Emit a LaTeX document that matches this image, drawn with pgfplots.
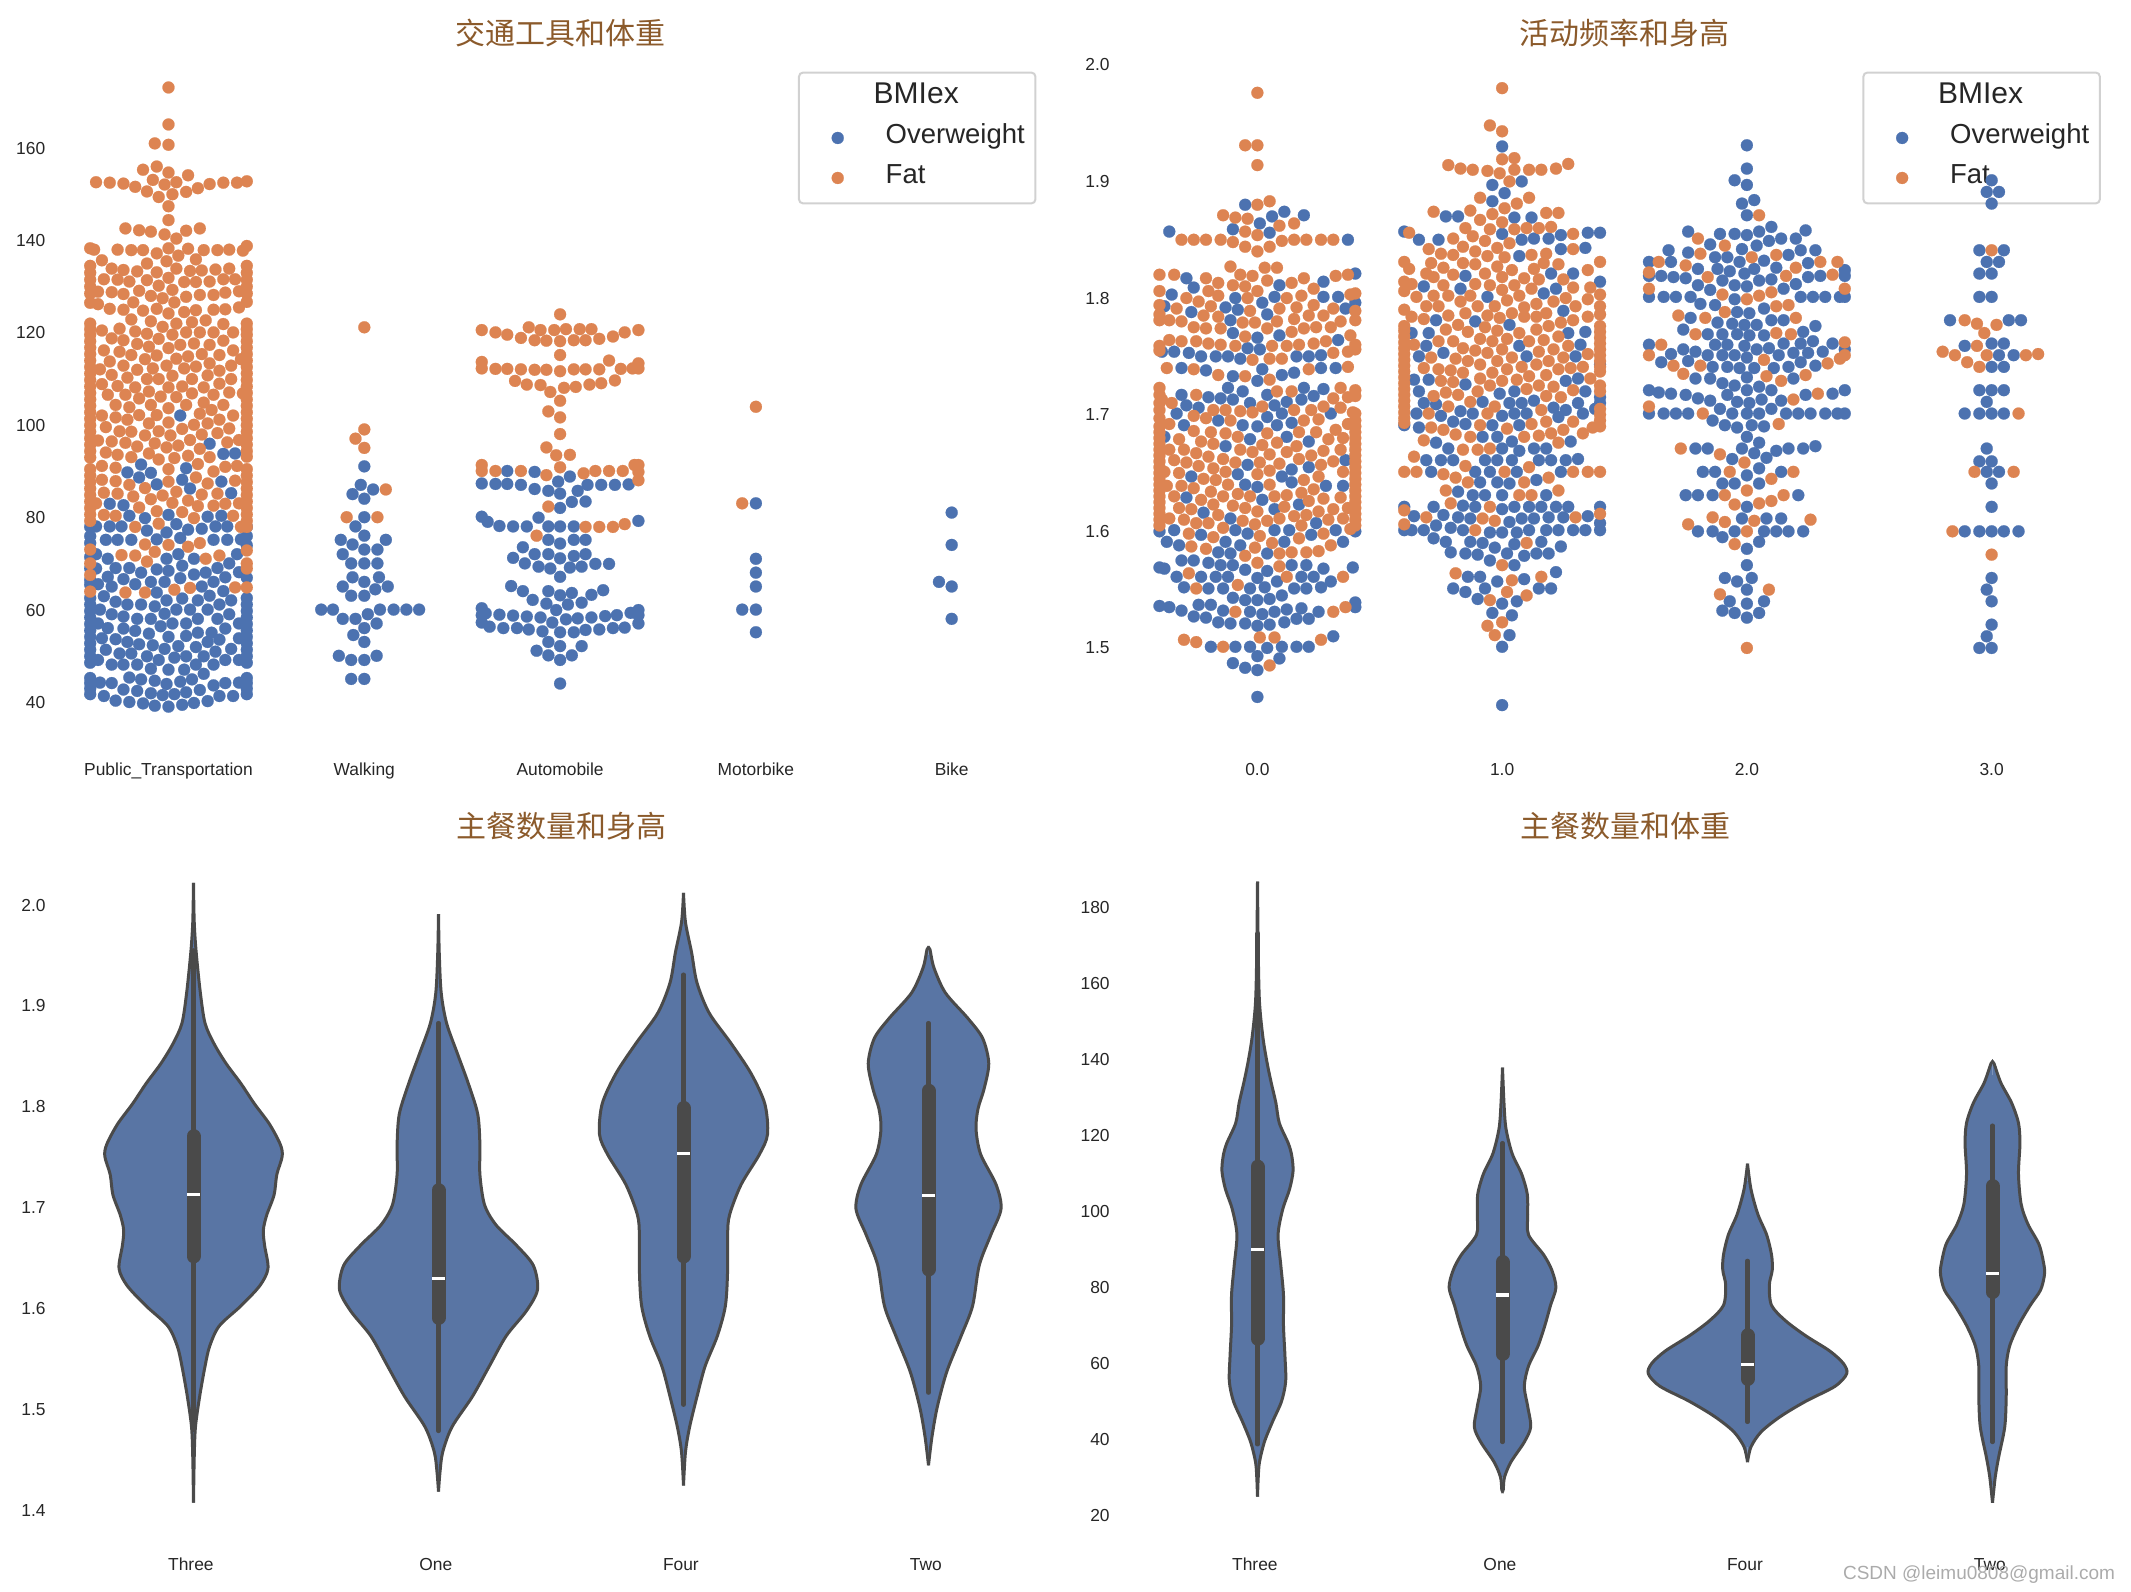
\documentclass[border=0pt]{standalone}
\usepackage{fontspec}
\setmainfont{Liberation Sans}
\newfontfamily\cjk{Noto Sans CJK SC}
\usepackage{pgfplots}
\usepackage{pgfplotstable}
\pgfplotsset{compat=1.18}
\definecolor{cB}{HTML}{4C72B0}
\definecolor{cO}{HTML}{DD8452}
\definecolor{cV}{HTML}{5975A4}
\definecolor{cL}{HTML}{4A4A4A}
\definecolor{cT}{HTML}{8B5A2B}
\definecolor{cK}{HTML}{262626}
\pgfplotsset{
 base/.style={scale only axis,axis line style={draw=none},major tick length=0pt,tick style={draw=none},
  clip=false,/pgf/number format/assume math mode=true,
  tick label style={font=\fontsize{8.7}{10}\selectfont,text=cK},
  xticklabel style={anchor=base,inner sep=0pt,yshift=-15.5pt},
  yticklabel style={anchor=east,inner sep=0pt,xshift=-12.5pt},
  title style={font=\cjk\fontsize{15}{15}\selectfont,text=cT,anchor=center,at={(0.5,1)}},
  legend cell align=left,
  legend image code/.code={\draw[mark repeat=2,mark phase=2,##1] plot coordinates {(0.17cm,0cm)(0.47cm,0cm)(0.77cm,0cm)};},
  legend style={at={(0.743,0.962)},anchor=north west,draw=black!18,line width=1pt,rounded corners=2pt,fill=white,
   font=\fontsize{13.75}{14}\selectfont,text=cK,inner xsep=6pt,inner ysep=2.7pt,row sep=0pt,
   nodes={text height=13pt,text depth=7pt,inner ysep=0pt}},
 },
 top/.style={base,width=489.5pt,height=350pt},
 bot/.style={base,width=490pt,height=344.5pt},
 sb/.style={only marks,mark=*,mark size=3pt,color=cB,mark options={draw=cB,fill=cB,line width=0.1pt},forget plot},
 so/.style={only marks,mark=*,mark size=3pt,color=cO,mark options={draw=cO,fill=cO,line width=0.1pt},forget plot},
 lb/.style={only marks,mark=*,mark size=3pt,color=cB,mark options={draw=cB,fill=cB,line width=0.1pt}},
 lo/.style={only marks,mark=*,mark size=3pt,color=cO,mark options={draw=cO,fill=cO,line width=0.1pt}},
 vio/.style={fill=cV,draw=cL,line width=1.5pt,smooth,tension=0.5,forget plot},
 sm/.style={draw=cV,line width=0.6pt,forget plot},
 wh/.style={draw=cL,line width=2.2pt,line cap=round,forget plot},
 bx/.style={draw=cL,line width=7pt,line cap=round,forget plot},
 md/.style={draw=white,line width=1.6pt,forget plot},
}
\pgfplotstableread{
h w
2.022 0
1.983 .003
1.953 .011
1.913 .028
1.883 .047
1.863 .083
1.843 .133
1.823 .194
1.803 .249
1.783 .310
1.763 .354
1.751 .362
1.733 .340
1.713 .329
1.693 .299
1.678 .285
1.663 .290
1.640 .304
1.623 .271
1.603 .194
1.583 .105
1.563 .066
1.543 .047
1.513 .025
1.483 .008
1.453 .003
1.408 0
}\hThree
\pgfplotstableread{
h w
1.991 0
1.953 .003
1.913 .011
1.883 .033
1.853 .077
1.823 .122
1.793 .160
1.763 .169
1.733 .169
1.703 .188
1.683 .235
1.663 .318
1.643 .387
1.619 .404
1.598 .359
1.573 .276
1.543 .207
1.513 .138
1.483 .055
1.458 .017
1.438 .006
1.419 0
}\hOne
\pgfplotstableread{
h w
2.012 0
1.983 .008
1.953 .033
1.923 .055
1.893 .105
1.863 .194
1.833 .276
1.803 .332
1.773 .343
1.753 .310
1.723 .235
1.693 .188
1.673 .180
1.638 .180
1.603 .171
1.573 .138
1.543 .088
1.513 .055
1.483 .025
1.458 .008
1.425 0
}\hFour
\pgfplotstableread{
h w
1.957 0
1.956 .006
1.938 .022
1.913 .069
1.888 .160
1.868 .221
1.843 .246
1.818 .227
1.798 .202
1.778 .194
1.753 .213
1.723 .276
1.699 .296
1.673 .254
1.643 .207
1.603 .180
1.573 .133
1.538 .075
1.503 .036
1.473 .014
1.445 0
}\hTwo
\pgfplotstableread{
h w
186.9 0
168.5 .003
155.2 .008
145.9 .022
139.2 .039
133.9 .056
128.6 .075
123.3 .089
117.9 .126
114.6 .140
110.6 .145
105.9 .131
100.6 .103
93.9 .084
85.9 .095
78 .106
70 .106
62 .112
55.3 .115
50 .098
44.6 .061
39.3 .028
34 .008
30 .003
24.9 0
}\wThree
\pgfplotstableread{
h w
137.9 0
128.6 .006
121.9 .014
115.3 .039
109.9 .078
104.6 .101
99.3 .103
93.9 .106
88.6 .168
84.6 .201
80 .218
75.3 .196
70 .173
64.6 .145
59.3 .106
54 .089
48.6 .103
43.3 .115
39.3 .089
34 .034
30 .008
26.7 .003
26.5 0
}\wOne
\pgfplotstableread{
h w
112.6 0
105.9 .014
99.3 .042
93.9 .078
88.6 .098
84.6 .101
80.6 .089
75.3 .098
71.3 .154
67.3 .237
63.3 .335
60 .391
57.3 .405
54 .358
50 .237
46 .134
42 .056
38 .014
34 0
}\wFour
\pgfplotstableread{
h w
139.2 0
139 .006
133.9 .034
128.6 .078
123.3 .106
117.9 .112
109.9 .106
101.9 .117
96.6 .145
91.3 .19
85.9 .21
83.3 .212
79.3 .196
75.3 .154
70 .106
64.6 .07
59.3 .056
51.3 .056
43.3 .05
35.3 .025
30 .011
23.3 0
}\wTwo
\begin{document}
\begin{tikzpicture}
\useasboundingbox (0,0) rectangle (1065.5pt,795.5pt);
% panel 1
\begin{axis}[top,at={(35.3pt,423pt)},anchor=south west,title={交通工具和体重},title style={yshift=0pt},
 xmin=-0.5,xmax=4.5,ymin=30.8,ymax=182.3,ytick={40,60,80,100,120,140,160},
 xtick={0,1,2,3,4},xticklabels={Public\_Transportation,Walking,Automobile,Motorbike,Bike}]
\addlegendimage{empty legend}\addlegendentry{\hspace*{13pt}\fontsize{15}{15}\selectfont BMIex}
\addlegendimage{lb}\addlegendentry{\hspace*{19pt}Overweight\hspace*{-2.7pt}}
\addlegendimage{lo}\addlegendentry{\hspace*{19pt}Fat}
% column 0 blue
\addplot[sb] coordinates {(.06,102.1)(.21,96)(.28,93.8)(.34,93.9)(-.14,91.5)(.09,90.7)(-.21,89.8)(-.09,89.7)(-.15,88.7)(.07,88.2)(.27,87.8)(-.06,87.2)(.11,86.3)(.32,85.3)(-.3,83)(-.23,82.7)(-.2,80.4)(0,80.6)(-.12,79.9)(.2,80.2)(.27,80.4)(.04,78.6)(-.37,78.1)(-.3,78.1)(-.24,78.1)(.17,77.6)(.24,78.1)(.3,78.1)(-.11,77.2)(.1,77.4)(-.01,76.8)(.06,75.6)(-.32,75.2)(-.26,75.2)(-.19,75.2)(-.06,75.3)(.23,75.2)(.3,75.2)(.37,75.3)(-.37,72.1)(.05,72.1)(.35,72.1)(-.31,71.1)(-.01,71.1)(.13,71.1)(.31,70.1)(.07,69.6)(.25,69.1)(-.27,69.1)(-.2,69.1)(-.37,69)(-.06,68.8)(0,68.5)(-.14,68.1)(.19,68.1)(.36,68.2)(.13,67.7)(-.31,67.2)(.29,67.1)(.06,66.9)(-.23,66.7)(.23,66.1)(-.09,66.1)(-.02,66.1)(-.17,65.6)(-.36,65.6)(.17,65.1)(-.29,65.1)(.28,64.1)(-.06,63.8)(.21,63.1)(-.33,63)(.15,62.1)(.07,62.5)(-.01,62.1)(.32,62.1)(-.27,61.8)(-.21,61.2)(-.14,61.2)(-.07,60.8)(.26,61.2)(.2,60.1)(-.35,60.1)(.04,60.1)(.11,60.1)(-.29,59.1)(-.02,59.2)(.31,59.1)(-.23,58.6)(-.16,58.1)(-.09,58.1)(.15,58.1)(.25,58.1)(.02,57.1)(.09,57.1)(-.36,57.1)(.36,57.1)(-.04,56.5)(-.31,56.1)(-.23,56)(.29,56)(-.17,55.5)(.22,55.1)(.15,55.1)(-.1,54.9)(0,54.2)(.09,54.4)(-.34,53.9)(-.27,53.7)(.36,53.9)(.26,53.6)(-.21,53.1)(.2,53.1)(-.15,52.6)(-.08,52.4)(.05,52.2)(.14,52)(-.02,51.6)(.24,51)(-.32,51.4)(.32,51.6)(-.25,50.6)(-.19,50.6)(.18,50)(.09,50)(-.11,50)(.03,49.7)(-.05,49.2)(-.36,49.2)(.36,49.2)(.29,49.2)(-.29,48.2)(-.23,48.2)(-.16,48.2)(.14,48.2)(.23,48.2)(-.09,47.3)(0,47.1)(.08,47.1)(.18,46.2)(-.2,45.4)(-.14,45)(-.07,44.7)(.12,45)(.06,44.5)(-.35,44.3)(-.01,44)(-.29,44.2)(.36,44.3)(.29,44.2)(.23,43.7)(-.23,42.8)(-.16,42.5)(.16,42.7)(-.09,42)(.09,42.2)(-.03,41.6)(.03,41.8)(-.33,41.4)(.33,41.4)(.26,41.4)(-.27,40.4)(-.2,40.1)(-.13,39.8)(.13,39.9)(.2,40.3)(-.07,39.3)(.07,39.5)(0,39.1)
(-.4,41.8)(-.4,43)(-.4,44.2)(-.4,45.3)(.4,41.8)(.4,43)(.4,44.2)(.4,45.3)
(-.4,48.6)(-.4,50)(-.4,51.4)(-.4,52.8)(-.4,54.2)(-.4,55.6)(-.4,57)(-.4,58.4)(-.4,59.8)(-.4,61.2)(-.4,62.6)(-.4,65.5)(-.4,66.5)(-.4,69)(-.4,71.5)(-.4,74.5)(-.4,76)(-.4,78)
(.4,48.6)(.4,50)(.4,51.4)(.4,52.8)(.4,54.2)(.4,55.6)(.4,57)(.4,58.4)(.4,59.8)(.4,61.2)(.4,62.6)(.4,67)(.4,74)(.4,76)(.4,78)};
% column 0 orange
\addplot[so] coordinates {(0,173.1)(0,165.1)(-.07,161)(0,160.7)(-.06,156)(-.13,155.3)(0,154.7)(.1,154.1)(-.08,153.1)(-.37,152.6)(-.3,152.5)(-.23,152.3)(-.17,151.6)(-.02,152.1)(.04,152.6)(.15,151.3)(.21,152.2)(.28,152.5)(.35,152.5)(.4,152.8)(-.11,150.6)(-.05,149.4)(.02,150)(.09,150.5)(0,147.4)(0,144.4)(-.22,142.6)(-.15,142.2)(-.09,141.9)(-.02,141.3)(.04,140.4)(.09,142.1)(.16,142.6)(-.4,138.3)(-.38,138)(-.26,138)(-.19,137.9)(-.13,137.9)(-.06,137.2)(0,138.3)(.05,136.7)(.1,138.2)(.18,137.9)(.25,137.9)(.31,138)(.38,137.8)(.4,138.8)(-.34,135.7)(-.01,135.5)(.14,135.9)(-.11,135)(-.29,133.9)(-.23,133.6)(-.16,133.3)(-.06,133.1)(.04,133.9)(.11,133.4)(.17,133.5)(.24,133.7)(.31,133.9)(-.33,131.6)(-.26,131.5)(-.2,131.1)(-.11,131.4)(0,131.9)(.08,131)(.14,131)(.21,131.1)(.28,131.6)(.34,131.6)(-.05,130.2)(.02,129.3)(-.15,129.1)(-.29,128.8)(-.23,128.4)(-.36,128.9)(-.09,128)(.09,127.8)(.16,128.2)(.23,128.2)(.29,128.7)(.36,129)(-.03,127.5)(-.18,126.6)(.03,126.6)(-.36,126.2)(-.3,125.2)(-.23,125)(-.13,124.8)(-.06,125.2)(0,124.2)(.08,124.5)(.14,124.9)(.23,125)(.29,125.1)(.36,125.5)(.4,126.7)(-.19,122.9)(-.09,122.5)(.04,122)(.12,122.3)(.19,122.7)(.28,121.9)(-.03,121.3)(-.25,120.9)(-.34,120.5)(-.17,120.3)(-.11,119.8)(.09,120.1)(.16,120.1)(.23,120.1)(.33,120.1)(.02,119.6)(-.29,118.8)(-.05,118.7)(-.23,118.4)(.28,118.3)(-.16,117.6)(.06,117.4)(.13,117.7)(.21,117.4)(-.1,117)(0,116.7)(-.33,116.2)(-.25,115.9)(.33,116.2)(-.19,115.2)(-.06,115.1)(.17,115.4)(.26,115.2)(.1,114.9)(.04,114.4)(-.12,114.3)(-.3,113.8)(.37,114.3)(.21,113.4)(-.23,112.9)(-.01,112.9)(.14,112.7)(.32,112.9)(-.08,112.3)(.08,112.3)(-.35,112.1)(-.16,112)(.26,111.8)(-.29,110.9)(-.21,110.3)(.02,110.7)(.2,110.8)(-.11,110)(-.05,110)(.12,110)(.32,110)(-.34,108.9)(-.26,108.5)(.26,109)(-.17,108.2)(0,108.2)(.07,108.4)(.18,108.2)(-.1,107.3)(.31,107.1)(.12,106.9)(.23,106.6)(-.22,106.6)(-.31,106.6)(-.15,105.8)(-.04,106.2)(.04,106.1)(.38,106.9)
(-.27,104.4)(-.2,103.9)(-.09,104.4)(0,103.7)(.09,104.4)(.18,104.9)(.22,103.3)(.28,104.4)(-.34,102.1)(-.27,101.7)(-.21,101.2)(-.15,102.2)(-.06,102.2)(.16,102.5)(.33,102.1)(0,100.6)(-.1,100.4)(-.32,99.6)(.26,101.2)(.2,100.4)(.13,100.1)(.31,99.3)(-.25,98.7)(.07,99.2)(-.19,98.6)(-.05,98.7)(-.12,97.8)(.01,97.8)(.17,98)(.25,98.3)(.11,96.8)(-.36,96.7)(-.29,96.5)(-.22,96.2)(.3,96.3)(.36,96.8)(-.07,96.1)(-.16,95.4)(.05,95.6)(-.01,95.2)(.16,94.9)(-.32,94.1)(-.26,93.6)(-.1,93.9)(.1,93.4)(-.19,93.1)(.21,93.1)(.03,92.9)(-.05,92.6)(.15,91.6)(-.34,91.2)(-.27,90.8)(.29,91)(.35,91.2)(0,90.5)(.23,90)(.14,88.7)(-.34,88.2)(-.27,87.9)(0,87.8)(.34,88)(-.2,87.1)(.2,87.4)(-.12,86.4)(-.33,85.4)(-.26,85.2)(.04,85.6)(-.03,84.8)(.17,85)(.25,85.2)(-.18,84.6)(-.09,84)(.1,83.7)(-.37,83.1)(.02,83.2)(.29,83)(.15,82.5)(.36,83.1)(.23,82.6)(-.15,82.2)(-.06,81.4)(.07,81.2)(-.33,80.6)(-.27,80.4)(.33,80.4)(.13,79.9)(-.05,78.7)(-.17,78)(.37,78)(-.12,74.2)(.16,74.5)(0,74.1)(.1,73.7)(-.07,72.6)(-.24,71.9)(-.17,71.8)(.26,71.8)(.19,71.1)(-.11,70.5)(.4,72.9)(-.4,73.1)(-.4,70.1)(-.4,67.6)(.4,70.1)(.4,69)(-.22,63.8)(-.12,63.8)(.03,64.4)(.11,64.8)(.34,64.9)(.4,64.9)(-.4,64)
(-.4,134.5)(-.4,133)(-.4,131.5)(-.4,130)(-.4,128.5)(-.4,126.5)(.4,134.5)(.4,133)(.4,131.5)(.4,130)(.4,128.5)
(-.4,122)(-.4,120.8)(-.4,119.6)(-.4,118.2)(-.4,116.8)(-.4,115.4)(-.4,114)(-.4,112.6)(-.4,111.2)(-.4,109.8)(-.4,108.4)(-.4,107)(-.4,105.6)(-.4,104.2)(-.4,102.8)(-.4,101.4)(-.4,100)(-.4,98.6)(-.4,97.2)(-.4,95.8)(-.4,94.4)(-.4,93)
(.4,122)(.4,120.8)(.4,119.6)(.4,118.2)(.4,116.8)(.4,115.4)(.4,114)(.4,112.6)(.4,111.2)(.4,109.8)(.4,108.4)(.4,107)(.4,105.6)(.4,104.2)(.4,102.8)(.4,101.4)(.4,100)(.4,98.6)(.4,97.2)(.4,95.8)(.4,94.4)(.4,93.2)
(-.4,90.5)(-.4,89.1)(-.4,87.7)(-.4,86.3)(-.4,84.9)(-.4,83.5)(-.4,82.1)(-.4,80.7)(-.4,79.3)(.4,90.5)(.4,89.1)(.4,87.7)(.4,86.3)(.4,84.9)(.4,83.5)(.4,82.1)(.4,80.7)(.4,79.3)(.4,78)};
% walking, motorbike, bike, automobile
\addplot[sb] coordinates {(1,91.1)(.982,87.1)(1.045,86.1)(.94,85.1)(1,84.1)(1,80.1)(.955,78.1)(1,76.1)(.88,75.2)(1.11,75.2)(.94,74.2)(1,73.1)(1.067,73.1)(.89,72.1)(.933,70.1)(1,70.1)(1.067,70.1)(.94,67.1)(1.075,67.1)(1,66.1)(.89,65.1)(1.12,65.1)(1.056,64.5)(.933,63.1)(1,63.1)(.78,60.1)(.84,60.1)(1.08,60.1)(1.15,60.1)(1.215,60.1)(1.28,60.1)(1.018,59.1)(.89,58.1)(.955,58.1)(1.063,57.1)(1,56.1)(.944,54.6)(1,53.1)(.87,50.1)(1.063,50.1)(.933,49.2)(1,49.2)(.933,45.1)(1,45.1)
(3,83.1)(3,71.1)(3,68.1)(3,65.1)(2.93,60.1)(3,60.1)(3,55.2)
(4,81.1)(4,74.1)(3.935,66.1)(4,65.1)(4,58.1)
(1.73,90.1)(1.87,89.9)(2.05,88.9)(1.99,87.8)(1.6,87.4)(1.67,87.3)(1.73,87.3)(1.8,87.1)(1.87,86.2)(1.94,85.8)(2,85.2)(2.09,85.8)(2.14,87.1)(2.21,87.1)(2.28,87.1)(2.35,87.2)(2.06,83.4)(2.13,83.5)(2,82.1)(1.6,80.2)(1.63,79.1)(1.69,78.2)(1.76,78.1)(1.83,78.1)(1.89,80)(1.94,78.1)(2,78.1)(2.07,78.1)(2.4,79.3)(1.94,75.2)(2,74.4)(2.07,75.2)(2.13,75.2)(1.81,73.6)(1.87,72.1)(1.94,72.1)(2,71.2)(2.07,71.7)(2.13,72.1)(1.76,71.3)(1.82,70.1)(1.89,69.4)(1.95,69)(2.05,69.2)(2.11,69.4)(2.18,70)(2.25,70)(2,67.2)(1.75,65.2)(1.81,64.1)(1.94,64.1)(2,63.2)(2.06,63.7)(2.16,63.3)(2.22,64.3)(1.86,62.2)(1.93,61.4)(2.04,61.2)(2.11,61.6)(1.98,60)
(1.6,60.4)(1.6,58.9)(1.62,59.3)(1.69,59)(1.76,58.8)(1.83,58.6)(1.9,58.4)(1.96,57.3)(2.03,58)(2.09,58.2)(2.16,58.4)(2.23,58.7)(2.29,58.9)(2.36,59.4)(2.4,60)(2.4,58.9)(1.6,57.3)(1.64,56.4)(1.71,56.1)(1.78,56.1)(1.84,55.8)(1.91,55.4)(2,55.2)(2.07,55.2)(2.13,55.7)(2.2,55.8)(2.27,56.1)(2.33,56.2)(2.4,57.1)(1.94,53.1)(2,52.2)(2.11,52.2)(1.88,51.2)(1.94,50.2)(2.06,50.2)(2,49.2)(2,44.1)};
\addplot[so] coordinates {(1,121.2)(1,99.1)(.955,97.1)(1,95.1)(1.11,86.1)(.91,80.1)(1.067,80.1)(3,104)(2.93,83.1)
(2,124)(1.6,120.6)(1.67,120.1)(1.73,119.6)(1.8,118.9)(1.84,121.2)(1.87,118.4)(1.9,120.6)(1.93,118.3)(1.97,120.6)(2,118.2)(2.03,120.8)(2.07,118.4)(2.1,120.8)(2.13,118.4)(2.16,120.8)(2.2,118.7)(2.27,119.2)(2.33,120.1)(2.4,120.6)(2,115.2)
(1.6,113.7)(1.6,112.3)(1.67,112.2)(1.73,112.2)(1.8,112.1)(1.87,112)(1.93,112)(2,111.7)(2.07,112.1)(2.13,112.1)(2.2,112.1)(2.25,114)(2.31,112.2)(2.37,112.3)(2.4,113.4)(2.4,112.3)
(1.77,109.6)(1.83,108.8)(1.9,108.7)(1.95,107.2)(2.02,108.1)(2.08,108.3)(2.15,108.8)(2.21,109.1)(2.28,109.7)(2,105.3)(1.94,103)(2,101.7)(2,98.1)(1.93,95.2)(1.98,93.5)(2.05,93.6)(2,90.9)
(1.6,91.4)(1.6,90.1)(1.67,90.1)(1.8,90.1)(1.93,89.2)(2.12,89.6)(2.18,90.1)(2.25,90.1)(2.32,90.1)(2.38,91.4)(2.4,91.4)(2.4,89.9)(2.4,88.1)(1.94,82.4)(2.13,78)(2.2,78)(2.27,78)(2.33,78.6)(1.88,76.1)};
\end{axis}
% panel 2
\begin{axis}[top,at={(567.5pt,423pt)},anchor=south west,title={活动频率和身高},title style={yshift=0pt},
 xmin=-0.5,xmax=3.5,ymin=1.4168,ymax=2.017,ytick={1.5,1.6,1.7,1.8,1.9,2.0},
 yticklabel style={/pgf/number format/.cd,fixed,fixed zerofill,precision=1},
 xtick={0,1,2,3},xticklabels={0.0,1.0,2.0,3.0}]
\addlegendimage{empty legend}\addlegendentry{\hspace*{13pt}\fontsize{15}{15}\selectfont BMIex}
\addlegendimage{lb}\addlegendentry{\hspace*{19pt}Overweight\hspace*{-2.7pt}}
\addlegendimage{lo}\addlegendentry{\hspace*{19pt}Fat}
% column 0
\addplot[sb] coordinates {(-.05,1.88)(.11,1.874)(.19,1.871)(.06,1.87)(.01,1.864)(-.1,1.859)(-.36,1.857)(.05,1.856)(.37,1.85)(.4,1.821)(-.29,1.817)(.27,1.814)(.09,1.811)(-.26,1.809)(-.35,1.803)(-.09,1.8)(.07,1.801)(.27,1.801)(.33,1.801)(.02,1.796)(-.13,1.792)(-.38,1.793)(-.08,1.79)(.36,1.791)(-.27,1.788)(.04,1.786)(-.11,1.781)(.4,1.796)(-.1,1.77)(.09,1.768)(0,1.766)(.33,1.764)(-.04,1.757)(.01,1.756)(-.39,1.754)(-.34,1.754)(-.28,1.753)(-.23,1.75)(-.17,1.75)(-.12,1.75)(-.07,1.748)(.16,1.75)(.21,1.75)(.26,1.751)(-.31,1.74)(-.21,1.738)(.02,1.739)(.26,1.74)(.32,1.74)(.15,1.736)(.1,1.734)(-.1,1.733)(0,1.729)(-.12,1.723)(-.06,1.72)(.19,1.723)(.27,1.722)(-.31,1.717)(.04,1.717)(-.2,1.715)(-.15,1.714)(-.1,1.713)(.23,1.716)(.18,1.713)(-.03,1.71)(.12,1.711)(.07,1.708)(-.29,1.708)(-.24,1.706)(-.33,1.701)(.1,1.701)(.3,1.701)(-.16,1.695)(.04,1.698)(-.3,1.691)(.08,1.691)(.14,1.693)(-.06,1.691)(0,1.69)(-.38,1.681)(.12,1.681)(-.03,1.679)(.21,1.677)(-.13,1.673)(.36,1.661)(-.04,1.657)(.21,1.655)(.14,1.653)(-.08,1.649)(.1,1.647)(-.27,1.647)(.14,1.642)(-.05,1.64)(0,1.638)(.28,1.639)(.35,1.639)(-.29,1.629)(.02,1.627)(.17,1.623)(.07,1.619)(-.22,1.616)(-.11,1.611)(.24,1.607)(-.34,1.601)(-.09,1.601)(.13,1.601)(.07,1.601)(.32,1.601)(-.23,1.597)(-.04,1.598)(.22,1.597)(-.37,1.591)(-.32,1.588)(-.13,1.591)(-.07,1.588)(.11,1.591)(.35,1.591)(-.16,1.582)(-.11,1.581)(.04,1.581)(-.31,1.575)(-.26,1.575)(-.2,1.573)(-.15,1.571)(-.1,1.571)(.14,1.571)(.2,1.571)(-.4,1.569)(-.38,1.568)(.39,1.569)(-.05,1.567)(.27,1.568)(.04,1.566)(-.33,1.561)(-.23,1.561)(-.17,1.561)(-.12,1.561)(0,1.56)(.18,1.561)(.23,1.561)(.08,1.557)(.3,1.557)(-.3,1.552)(-.2,1.551)(-.14,1.551)(-.03,1.551)(.03,1.552)(.15,1.551)(.2,1.551)(.26,1.552)(-.1,1.543)(.1,1.545)(.05,1.542)(-.05,1.541)(0,1.541)(-.4,1.536)(-.36,1.535)(-.24,1.537)(-.19,1.537)(.4,1.539)(.4,1.535)(-.31,1.532)(-.14,1.532)(-.03,1.531)(.12,1.533)(.18,1.534)(.07,1.531)(.25,1.531)(.02,1.529)(-.26,1.527)(-.21,1.526)(.16,1.525)(.21,1.525)(.11,1.522)(-.16,1.522)(-.11,1.521)(-.05,1.521)(.05,1.52)(0,1.519)(.31,1.51)(-.19,1.501)(-.09,1.501)(-.03,1.501)(.1,1.501)(.16,1.501)(.21,1.501)(.04,1.5)(0,1.493)(.09,1.491)(-.1,1.487)(-.05,1.483)(0,1.481)(0,1.458)(-.4,1.6)(.4,1.6)};
\addplot[so] coordinates {(0,1.976)(-.05,1.931)(0,1.931)(0,1.914)(0,1.88)(.05,1.883)(-.14,1.871)(-.09,1.869)(-.04,1.868)(.09,1.862)(.15,1.864)(-.05,1.857)(0,1.854)(-.31,1.85)(-.26,1.85)(-.21,1.85)(-.15,1.85)(-.1,1.848)(.1,1.849)(.15,1.85)(.2,1.85)(.26,1.85)(.31,1.85)(-.05,1.844)(0,1.84)(.05,1.844)(-.11,1.827)(.03,1.826)(.08,1.826)(-.4,1.82)(-.34,1.82)(-.07,1.82)(-.02,1.819)(-.21,1.817)(.32,1.819)(.37,1.82)(.19,1.817)(.04,1.815)(-.16,1.813)(-.1,1.811)(-.05,1.81)(.14,1.813)(.23,1.808)(-.2,1.806)(0,1.806)(-.4,1.806)(.4,1.804)(.38,1.803)(-.16,1.802)(-.29,1.8)(-.04,1.8)(.12,1.8)(.18,1.802)(-.24,1.797)(-.19,1.793)(-.4,1.794)(-.33,1.791)(.09,1.791)(.16,1.792)(.23,1.794)(.31,1.791)(-.03,1.789)(.4,1.789)(-.4,1.786)(-.22,1.785)(-.16,1.784)(.21,1.785)(.27,1.785)(.15,1.782)(-.36,1.781)(-.31,1.78)(-.06,1.779)(-.01,1.779)(.08,1.78)(.34,1.78)(.4,1.781)(-.4,1.781)(-.26,1.775)(-.21,1.774)(-.15,1.774)(.04,1.774)(.19,1.774)(.24,1.775)(.3,1.775)(.14,1.771)(-.05,1.767)(.38,1.768)(-.36,1.764)(-.31,1.763)(-.25,1.763)(-.2,1.761)(-.15,1.76)(-.09,1.759)(.06,1.759)(.12,1.759)(.17,1.76)(.23,1.761)(.28,1.763)(.4,1.76)(-.4,1.759)(-.4,1.755)(.4,1.756)(.37,1.754)(.31,1.753)(-.02,1.747)(.05,1.748)(.1,1.748)(-.37,1.74)(-.26,1.739)(.37,1.741)(.21,1.739)(-.16,1.734)(-.05,1.733)(.05,1.73)(.08,1.72)(.14,1.72)(.34,1.723)(-.4,1.723)(.4,1.721)(-.4,1.717)(-.25,1.717)(-.39,1.713)(.31,1.714)(.37,1.715)(.4,1.716)(-.35,1.71)(-.4,1.71)(-.4,1.704)(.02,1.707)(-.18,1.704)(-.13,1.704)(-.07,1.703)(.15,1.704)(.27,1.707)(.22,1.704)(.34,1.706)(.4,1.701)(-.4,1.697)(-.26,1.699)(-.21,1.697)(-.11,1.695)(.19,1.695)(.25,1.696)(.39,1.702)(-.02,1.702)(-.36,1.692)(.37,1.692)(.32,1.687)(-.26,1.686)(-.19,1.685)(-.13,1.684)(.04,1.684)(-.08,1.681)(.17,1.685)(.24,1.685)(-.32,1.679)(.35,1.68)(.29,1.679)(-.23,1.677)(-.18,1.675)(.08,1.676)(.02,1.674)(.16,1.673)(-.07,1.67)(-.36,1.67)(-.3,1.67)(.27,1.669)(.34,1.67)(-.02,1.668)(.12,1.668)(.05,1.666)(-.25,1.667)(-.2,1.664)(.22,1.665)(.17,1.662)(-.14,1.662)(-.34,1.661)(.31,1.66)(-.29,1.659)(-.09,1.659)(.01,1.659)(.09,1.658)(.26,1.657)(-.24,1.656)(-.18,1.654)(.05,1.652)(-.13,1.651)(.35,1.651)(-.38,1.651)(-.32,1.65)(0,1.649)(.25,1.647)(.19,1.644)(-.22,1.645)(-.17,1.644)(-.12,1.64)(.05,1.64)(-.37,1.639)(-.31,1.639)(-.26,1.637)(.23,1.636)(-.19,1.634)(.18,1.633)(.12,1.631)(-.08,1.632)(-.14,1.63)(-.03,1.63)(.07,1.63)(-.34,1.63)(-.23,1.627)(.21,1.626)(.27,1.628)(.34,1.629)(-.18,1.623)(-.1,1.622)(.11,1.621)(-.05,1.62)(-.32,1.62)(-.27,1.619)(.31,1.619)(.37,1.62)(0,1.617)(.25,1.617)(.2,1.614)(-.16,1.614)(.15,1.613)(.09,1.611)(-.36,1.611)(-.3,1.61)(.04,1.609)(-.06,1.609)(.29,1.61)(.35,1.611)(-.25,1.607)(-.2,1.607)(-.01,1.606)(-.14,1.603)(.18,1.605)(.38,1.602)(-.28,1.598)(.27,1.598)(.01,1.596)(-.18,1.595)(.17,1.594)(.06,1.59)(-.27,1.587)(-.21,1.585)(-.01,1.586)(.3,1.588)(.09,1.581)(.14,1.582)(.2,1.582)(.25,1.583)(-.05,1.579)(0,1.573)(.09,1.57)(-.28,1.564)(.12,1.561)(.35,1.561)(-.08,1.554)(-.25,1.551)(-.09,1.531)(.31,1.531)(.36,1.535)(-.3,1.507)(-.25,1.505)(-.14,1.501)(.01,1.509)(.07,1.509)(.26,1.507)(.05,1.485)
(-.4,1.69)(-.4,1.685)(-.4,1.68)(-.4,1.675)(-.4,1.67)(-.4,1.665)(-.4,1.66)(-.4,1.655)(-.4,1.65)(-.4,1.645)(-.4,1.64)(-.4,1.635)(-.4,1.63)(-.4,1.625)(-.4,1.62)(-.4,1.615)(-.4,1.61)(-.4,1.605)
(.4,1.695)(.4,1.69)(.4,1.685)(.4,1.68)(.4,1.675)(.4,1.67)(.4,1.665)(.4,1.66)(.4,1.655)(.4,1.65)(.4,1.645)(.4,1.64)(.4,1.635)(.4,1.63)(.4,1.625)(.4,1.62)(.4,1.615)(.4,1.61)(.4,1.605)};
% column 1
\addplot[sb,x filter/.expression={x+1}] coordinates {(0,1.93)(.08,1.9)(-.04,1.897)(.01,1.89)(-.04,1.883)(-.23,1.87)(-.18,1.87)(.05,1.869)(.12,1.869)(0,1.855)(-.4,1.857)(.24,1.854)(.35,1.856)(.4,1.856)(-.34,1.85)(-.26,1.85)(.08,1.85)(.13,1.851)(.19,1.851)(.24,1.842)(.34,1.843)(.07,1.836)(-.15,1.819)(.2,1.821)(.29,1.821)(.4,1.814)(-.32,1.81)(-.17,1.808)(.22,1.808)(.17,1.804)(-.06,1.801)(.25,1.789)(-.27,1.781)(-.11,1.78)(.03,1.777)(-.37,1.77)(-.3,1.77)(.27,1.77)(.34,1.771)(-.31,1.759)(.32,1.76)(.07,1.759)(-.24,1.753)(-.34,1.75)(.1,1.75)(.3,1.75)(.4,1.743)(.26,1.729)(.31,1.731)(-.36,1.73)(-.3,1.73)(-.15,1.726)(.05,1.72)(-.01,1.718)(-.34,1.72)(.34,1.72)(.03,1.71)(.08,1.71)(.13,1.712)(-.32,1.71)(-.08,1.711)(-.27,1.709)(.21,1.706)(.26,1.704)(.31,1.71)(.38,1.705)(.4,1.71)(.4,1.715)
(-.17,1.703)(-.12,1.701)(-.35,1.701)(-.25,1.699)(0,1.699)(.05,1.701)(.1,1.701)(.33,1.701)(.23,1.698)(-.2,1.694)(-.15,1.692)(-.04,1.691)(.07,1.691)(-.34,1.689)(-.4,1.691)(-.08,1.681)(-.02,1.681)(.04,1.677)(.28,1.677)(-.27,1.676)(-.22,1.671)(0,1.671)(.07,1.669)(.13,1.671)(.18,1.671)(-.31,1.661)(-.25,1.661)(-.2,1.661)(-.07,1.661)(-.02,1.661)(.04,1.661)(.15,1.661)(.2,1.661)(.26,1.661)(.31,1.662)(-.29,1.651)(-.11,1.651)(-.05,1.651)(.06,1.651)(.24,1.651)(-.09,1.642)(-.02,1.642)(.03,1.641)(.14,1.644)(-.18,1.634)(-.12,1.631)(-.07,1.631)(0,1.631)(.18,1.631)(-.4,1.621)(-.28,1.621)(-.16,1.622)(-.11,1.621)(0,1.619)(.05,1.621)(.11,1.621)(.16,1.621)(.22,1.621)(.27,1.621)(.4,1.621)(-.36,1.613)(-.24,1.614)(-.18,1.612)(-.13,1.611)(.03,1.608)(.08,1.611)(.13,1.611)(.19,1.612)(.25,1.612)(.35,1.613)(-.4,1.601)(-.37,1.601)(-.32,1.601)(-.27,1.605)(-.21,1.603)(-.16,1.601)(-.05,1.599)(0,1.599)(.06,1.599)(.11,1.601)(.18,1.601)(.23,1.601)(.29,1.601)(.34,1.601)(.4,1.601)(.4,1.607)(-.28,1.594)(-.23,1.591)(-.13,1.591)(-.08,1.59)(.05,1.589)(.16,1.591)(-.03,1.586)(.24,1.587)(-.21,1.582)(-.15,1.581)(-.1,1.58)(.02,1.581)(.14,1.581)(.19,1.581)(.09,1.579)(-.05,1.575)(.05,1.571)(.22,1.565)(-.14,1.561)(-.09,1.561)(.09,1.559)(-.02,1.557)(-.2,1.551)(-.07,1.551)(.15,1.551)(.2,1.551)(-.15,1.548)(-.1,1.542)(.06,1.54)(0,1.538)(-.04,1.53)(.04,1.528)(.03,1.511)(0,1.501)(0,1.451)};
\addplot[so,x filter/.expression={x+1}] coordinates {(0,1.98)(-.05,1.948)(0,1.943)(0,1.919)(.05,1.92)(-.22,1.914)(-.17,1.911)(-.12,1.91)(-.06,1.909)(-.01,1.907)(.05,1.91)(.11,1.91)(.16,1.91)(.22,1.911)(.27,1.915)(.03,1.9)(-.09,1.886)(.11,1.886)(.06,1.881)(.01,1.877)(-.13,1.875)(-.04,1.872)(-.28,1.874)(.18,1.873)(.23,1.873)(-.09,1.867)(0,1.865)(.2,1.861)(-.15,1.86)(-.05,1.859)(.15,1.86)(.1,1.86)(.05,1.859)(-.38,1.856)(-.12,1.853)(.29,1.855)(-.2,1.851)(-.07,1.849)(.03,1.847)(-.16,1.844)(-.02,1.843)(-.3,1.842)(.29,1.842)(-.11,1.84)(.18,1.838)(-.25,1.838)(-.2,1.837)(-.06,1.836)(.01,1.835)(.12,1.837)(-.16,1.83)(.17,1.83)(.23,1.829)(-.29,1.83)(-.11,1.829)(-.4,1.831)(-.02,1.827)(.4,1.831)(-.24,1.826)(.13,1.825)(.04,1.824)(.35,1.824)(-.38,1.825)(-.31,1.821)(-.07,1.821)(-.2,1.82)(0,1.818)(-.28,1.818)(.09,1.817)(.15,1.816)(.25,1.816)(-.4,1.814)(-.37,1.812)(-.24,1.811)(-.11,1.812)(-.05,1.811)(.05,1.811)(.12,1.808)(.29,1.809)(.36,1.809)(0,1.807)(-.4,1.806)(.4,1.803)(-.28,1.802)(-.13,1.802)(-.22,1.802)(-.35,1.801)(.07,1.802)(.26,1.8)(.02,1.798)(.35,1.799)(-.17,1.797)(.21,1.797)(-.31,1.793)(-.26,1.793)(-.1,1.793)(-.03,1.793)(.3,1.793)(.09,1.792)(.14,1.795)(-.4,1.79)(.4,1.793)(-.15,1.787)(.04,1.787)(.18,1.787)(-.06,1.785)(-.22,1.785)(-.37,1.784)(.4,1.786)(-.01,1.783)(.09,1.784)(.35,1.784)(.14,1.784)(-.32,1.782)(.29,1.781)(-.18,1.777)(.24,1.779)(.19,1.776)(-.07,1.775)(-.23,1.773)(-.02,1.772)(.14,1.773)(.07,1.77)(-.14,1.771)(-.4,1.776)(.4,1.776)(.23,1.767)(-.09,1.765)(-.26,1.763)(-.2,1.763)(.02,1.765)(-.04,1.763)(.11,1.763)(.17,1.764)(-.36,1.76)(.27,1.759)(-.16,1.757)(0,1.756)(.15,1.754)(.21,1.756)(-.11,1.755)(-.06,1.753)(.35,1.752)(.04,1.749)(-.29,1.749)(-.19,1.748)(.19,1.746)(-.14,1.746)(.25,1.749)(-.02,1.746)(.14,1.743)(-.09,1.743)(-.32,1.74)(.08,1.741)(.28,1.74)(.33,1.741)(.23,1.739)(-.26,1.739)(.02,1.739)(-.21,1.738)(-.04,1.736)(-.16,1.736)(.11,1.733)(.18,1.734)(-.09,1.731)(.06,1.73)(0,1.729)(-.25,1.729)(-.2,1.728)(.36,1.731)(-.05,1.725)(.15,1.725)(-.28,1.716)(-.23,1.719)(.1,1.722)(.21,1.724)(.29,1.721)(-.1,1.72)(-.18,1.717)(.18,1.716)(.24,1.715)(-.13,1.711)(-.03,1.707)(-.22,1.707)(.16,1.704)
(-.3,1.701)(-.06,1.701)(-.24,1.687)(-.29,1.689)(-.19,1.683)(-.13,1.681)(-.09,1.691)(.02,1.688)(.09,1.681)(.15,1.682)(.2,1.684)(.25,1.687)(.18,1.694)(.12,1.692)(.29,1.694)(.33,1.684)(.37,1.689)(-.32,1.678)(.23,1.676)(-.16,1.67)(-.1,1.67)(-.05,1.671)(-.36,1.664)(-.15,1.656)(.11,1.655)(-.4,1.651)(-.35,1.651)(-.24,1.649)(-.19,1.646)(-.14,1.642)(.01,1.651)(.09,1.642)(.19,1.646)(.29,1.651)(.35,1.651)(.4,1.651)(-.23,1.635)(.07,1.631)(.12,1.631)(.23,1.635)(-.21,1.624)(-.05,1.621)(-.4,1.618)(-.4,1.606)(-.31,1.612)(-.08,1.611)(-.03,1.609)(.3,1.612)(.4,1.615)(-.11,1.601)(.1,1.59)(0,1.571)(-.19,1.564)(.04,1.558)(.16,1.561)(.02,1.548)(-.05,1.541)(.1,1.545)(-.06,1.519)(0,1.522)(-.03,1.511)
(-.4,1.772)(-.4,1.767)(-.4,1.762)(-.4,1.757)(-.4,1.752)(-.4,1.747)(-.4,1.742)(-.4,1.737)(-.4,1.732)(-.4,1.727)(-.4,1.722)(-.4,1.717)(-.4,1.712)(-.4,1.707)(-.4,1.702)(-.4,1.697)(-.4,1.693)
(.4,1.771)(.4,1.766)(.4,1.761)(.4,1.756)(.4,1.751)(.4,1.746)(.4,1.741)(.4,1.737)(.4,1.7)(.4,1.695)(.4,1.69)(.4,1.705)(.4,1.725)(.4,1.72)};
% column 2 and 3
\addplot[sb,x filter/.expression={x+2}] coordinates {(0,1.931)(0,1.911)(-.05,1.901)(0,1.897)(.03,1.884)(-.02,1.881)(0,1.871)(.1,1.861)(.24,1.858)(-.24,1.857)(.05,1.857)(-.11,1.855)(-.05,1.855)(0,1.854)(.14,1.851)(.09,1.849)(.2,1.851)(-.15,1.846)(.04,1.845)(-.02,1.842)(-.32,1.841)(-.24,1.839)(.22,1.841)(.28,1.841)(.17,1.837)(-.13,1.835)(-.08,1.835)(.07,1.832)(-.03,1.831)(-.4,1.831)(-.31,1.831)(.25,1.83)(-.12,1.825)(-.2,1.825)(.12,1.826)(.03,1.825)(-.07,1.823)(-.4,1.819)(.4,1.824)(.4,1.819)(-.01,1.821)(-.35,1.819)(-.3,1.818)(-.25,1.817)(.25,1.818)(.3,1.819)(-.1,1.815)(.05,1.815)(.1,1.816)(-.2,1.811)(.2,1.812)(-.05,1.811)(0,1.81)(.15,1.808)(-.15,1.807)(-.4,1.801)(-.34,1.801)(-.29,1.801)(-.23,1.801)(-.05,1.799)(.22,1.801)(.27,1.801)(.32,1.801)(.38,1.801)(.4,1.801)(-.19,1.795)(-.13,1.794)(.07,1.791)(-.04,1.788)(.01,1.787)(-.23,1.783)(-.12,1.779)(.1,1.781)(.15,1.781)(-.06,1.778)(-.01,1.777)(.04,1.777)(.28,1.776)(-.26,1.773)(.23,1.771)(-.16,1.769)(-.1,1.769)(-.04,1.769)(.01,1.768)(.07,1.768)(-.13,1.76)(-.08,1.76)(-.01,1.759)(.15,1.761)(.22,1.761)(.27,1.763)(.35,1.761)(.09,1.757)(.04,1.756)(-.4,1.76)(.4,1.756)(-.26,1.756)(-.21,1.754)(-.31,1.752)(-.16,1.751)(-.1,1.751)(-.05,1.751)(0,1.749)(.13,1.751)(.19,1.753)(.25,1.753)(.31,1.754)(-.35,1.745)(-.24,1.746)(-.14,1.741)(-.08,1.741)(-.03,1.74)(.17,1.741)(.11,1.74)(.03,1.74)(.22,1.745)(.28,1.742)(-.21,1.731)(-.15,1.731)(0,1.732)(-.1,1.727)(-.05,1.725)(.19,1.731)(.05,1.724)(0,1.721)(.1,1.721)(-.4,1.721)(-.36,1.719)(-.31,1.718)(-.25,1.717)(-.2,1.714)(-.15,1.712)(-.08,1.717)(.24,1.717)(.35,1.718)(.4,1.721)(-.04,1.711)(.01,1.71)(.06,1.713)(.14,1.712)(-.11,1.705)(.1,1.705)(-.4,1.701)(-.34,1.701)(-.29,1.701)(-.24,1.701)(-.06,1.701)(0,1.701)(.05,1.701)(.16,1.701)(.21,1.701)(.26,1.701)(.32,1.701)(.37,1.701)(.4,1.701)(-.14,1.695)(-.09,1.691)(-.04,1.689)(.02,1.691)(.07,1.69)
(0,1.681)(.05,1.676)(-.21,1.671)(-.16,1.671)(-.02,1.671)(.12,1.669)(.17,1.671)(.23,1.671)(.28,1.673)(.03,1.667)(-.06,1.662)(.08,1.663)(-.18,1.651)(-.13,1.651)(.05,1.654)(0,1.648)(.14,1.651)(-.1,1.641)(-.05,1.641)(.05,1.641)(-.25,1.631)(-.2,1.631)(-.14,1.631)(.21,1.631)(0,1.621)(-.02,1.611)(.08,1.611)(.14,1.611)(-.2,1.6)(-.14,1.6)(-.05,1.6)(.07,1.6)(.12,1.6)(.17,1.6)(.23,1.6)(-.1,1.595)(.05,1.591)(0,1.585)(0,1.571)(-.09,1.56)(.02,1.56)(-.04,1.557)(0,1.55)(-.07,1.54)(.07,1.54)(0,1.538)(-.1,1.532)(-.05,1.53)(.05,1.53)(0,1.526)};
\addplot[so,x filter/.expression={x+2}] coordinates {(.05,1.871)(-.2,1.851)(-.09,1.845)(-.19,1.838)(.02,1.835)(.12,1.837)(-.36,1.831)(.3,1.831)(.37,1.831)(-.25,1.828)(.2,1.826)(-.4,1.822)(.35,1.82)(-.16,1.818)(.16,1.819)(-.4,1.808)(.4,1.808)(-.1,1.803)(.1,1.805)(.05,1.802)(0,1.799)(.12,1.793)(.17,1.794)(-.28,1.785)(-.17,1.783)(-.09,1.788)(.2,1.783)(-.21,1.769)(.12,1.77)(.18,1.769)(-.35,1.76)(.4,1.762)(-.4,1.751)(.38,1.748)(.4,1.751)(.07,1.747)(-.3,1.742)(-.19,1.742)(.33,1.744)(-.26,1.735)(.08,1.733)(.24,1.734)(.14,1.729)(.29,1.718)(.19,1.713)(-.4,1.707)(-.18,1.701)(.13,1.692)
(-.27,1.671)(-.11,1.666)(-.01,1.659)(-.07,1.651)(.19,1.651)(.1,1.645)(0,1.635)(-.09,1.631)(.15,1.631)(-.05,1.623)(.05,1.624)(.1,1.626)(-.14,1.612)(-.09,1.608)(.03,1.609)(.26,1.61)(-.24,1.606)(0,1.6)(-.05,1.589)(.09,1.55)(-.11,1.546)(0,1.5)};
\addplot[sb,x filter/.expression={x+3}] coordinates {(-.05,1.841)(.05,1.841)(-.02,1.831)(.03,1.831)(-.05,1.821)(0,1.821)(-.05,1.801)(0,1.801)(-.17,1.781)(.07,1.781)(.12,1.781)(-.11,1.759)(0,1.761)(.05,1.761)(.03,1.751)(.09,1.751)(0,1.741)(.05,1.741)(-.05,1.721)(0,1.721)(.05,1.721)(-.02,1.711)(-.11,1.701)(-.05,1.701)(0,1.701)(.05,1.701)(-.02,1.671)(-.05,1.66)(0,1.66)(-.02,1.651)(.03,1.651)(0,1.641)(0,1.621)(-.11,1.6)(-.05,1.6)(0,1.6)(.05,1.6)(.11,1.6)(0,1.56)(-.02,1.55)(0,1.54)(0,1.52)(-.02,1.51)(-.05,1.5)(0,1.5)};
\addplot[so,x filter/.expression={x+3}] coordinates {(0,1.841)(-.11,1.781)(-.06,1.778)(.02,1.777)(-.03,1.77)(-.06,1.759)(-.2,1.754)(-.15,1.751)(-.02,1.751)(.14,1.751)(.19,1.752)(-.1,1.745)(-.05,1.741)(.11,1.701)(-.07,1.651)(.09,1.651)(-.16,1.6)(0,1.58)};
\end{axis}
% the four highest points of column 3 lie over the legend
\begin{axis}[top,hide axis,at={(567.5pt,423pt)},anchor=south west,xmin=-0.5,xmax=3.5,ymin=1.4168,ymax=2.017]
\addplot[sb] coordinates {(3,1.901)(2.98,1.891)(3.03,1.891)(3,1.881)};
\end{axis}
% panel 3
\begin{axis}[bot,at={(35.5pt,26pt)},anchor=south west,title={主餐数量和身高},title style={yshift=6pt},
 xmin=-0.5,xmax=3.5,ymin=1.372,ymax=2.0545,ytick={1.4,1.5,1.6,1.7,1.8,1.9,2.0},
 yticklabel style={/pgf/number format/.cd,fixed,fixed zerofill,precision=1},
 xticklabel style={xshift=-1.3pt},
 xtick={0,1,2,3},xticklabels={Three,One,Four,Two}]
\addplot[sm] coordinates {(0,2.01)(0,1.42)};\addplot[sm] coordinates {(1,1.98)(1,1.43)};\addplot[sm] coordinates {(2,2.0)(2,1.435)};\addplot[sm] coordinates {(3,1.95)(3,1.455)};
\addplot[vio] table[x expr={0-\thisrow{w}},y=h] {\hThree};
\addplot[vio] table[x expr={0+\thisrow{w}},y=h] {\hThree};
\addplot[vio] table[x expr={1-\thisrow{w}},y=h] {\hOne};
\addplot[vio] table[x expr={1+\thisrow{w}},y=h] {\hOne};
\addplot[vio] table[x expr={2-\thisrow{w}},y=h] {\hFour};
\addplot[vio] table[x expr={2+\thisrow{w}},y=h] {\hFour};
\addplot[vio] table[x expr={3-\thisrow{w}},y=h] {\hTwo};
\addplot[vio] table[x expr={3+\thisrow{w}},y=h] {\hTwo};
\addplot[wh] coordinates {(0,1.48)(0,1.955)};\addplot[bx] coordinates {(0,1.652)(0,1.771)};\addplot[md] coordinates {(-.025,1.7135)(.025,1.7135)};
\addplot[wh] coordinates {(1,1.479)(1,1.883)};\addplot[bx] coordinates {(1,1.591)(1,1.7175)};\addplot[md] coordinates {(.975,1.63)(1.025,1.63)};
\addplot[wh] coordinates {(2,1.505)(2,1.931)};\addplot[bx] coordinates {(2,1.652)(2,1.799)};\addplot[md] coordinates {(1.975,1.754)(2.025,1.754)};
\addplot[wh] coordinates {(3,1.517)(3,1.883)};\addplot[bx] coordinates {(3,1.639)(3,1.816)};\addplot[md] coordinates {(2.975,1.7125)(3.025,1.7125)};
\end{axis}
% panel 4
\begin{axis}[bot,at={(567.5pt,26pt)},anchor=south west,title={主餐数量和体重},title style={yshift=6pt},
 xmin=-0.5,xmax=3.5,ymin=13.76,ymax=195.2,ytick={20,40,60,80,100,120,140,160,180},
 xticklabel style={xshift=-1.3pt},
 xtick={0,1,2,3},xticklabels={Three,One,Four,Two}]
\addplot[sm] coordinates {(0,180)(0,30)};\addplot[sm] coordinates {(1,132)(1,30)};\addplot[sm] coordinates {(2,108)(2,38)};\addplot[sm] coordinates {(3,136)(3,28)};
\addplot[vio] table[x expr={0-\thisrow{w}},y=h] {\wThree};
\addplot[vio] table[x expr={0+\thisrow{w}},y=h] {\wThree};
\addplot[vio] table[x expr={1-\thisrow{w}},y=h] {\wOne};
\addplot[vio] table[x expr={1+\thisrow{w}},y=h] {\wOne};
\addplot[vio] table[x expr={2-\thisrow{w}},y=h] {\wFour};
\addplot[vio] table[x expr={2+\thisrow{w}},y=h] {\wFour};
\addplot[vio] table[x expr={3-\thisrow{w}},y=h] {\wTwo};
\addplot[vio] table[x expr={3+\thisrow{w}},y=h] {\wTwo};
\addplot[wh] coordinates {(0,38.7)(0,173.2)};\addplot[bx] coordinates {(0,66.5)(0,111.8)};\addplot[md] coordinates {(-.025,90)(.025,90)};
\addplot[wh] coordinates {(1,39.3)(1,118)};\addplot[bx] coordinates {(1,62.5)(1,86.7)};\addplot[md] coordinates {(.975,78)(1.025,78)};
\addplot[wh] coordinates {(2,44.6)(2,87)};\addplot[bx] coordinates {(2,55.9)(2,67.4)};\addplot[md] coordinates {(1.975,59.8)(2.025,59.8)};
\addplot[wh] coordinates {(3,39.3)(3,122.6)};\addplot[bx] coordinates {(3,78.8)(3,106.7)};\addplot[md] coordinates {(2.975,83.7)(3.025,83.7)};
\end{axis}
\node[text=black!33,font=\fontsize{9.5}{10}\selectfont] at (989.5pt,8pt) {CSDN @leimu0808@gmail.com};
\end{tikzpicture}
\end{document}
